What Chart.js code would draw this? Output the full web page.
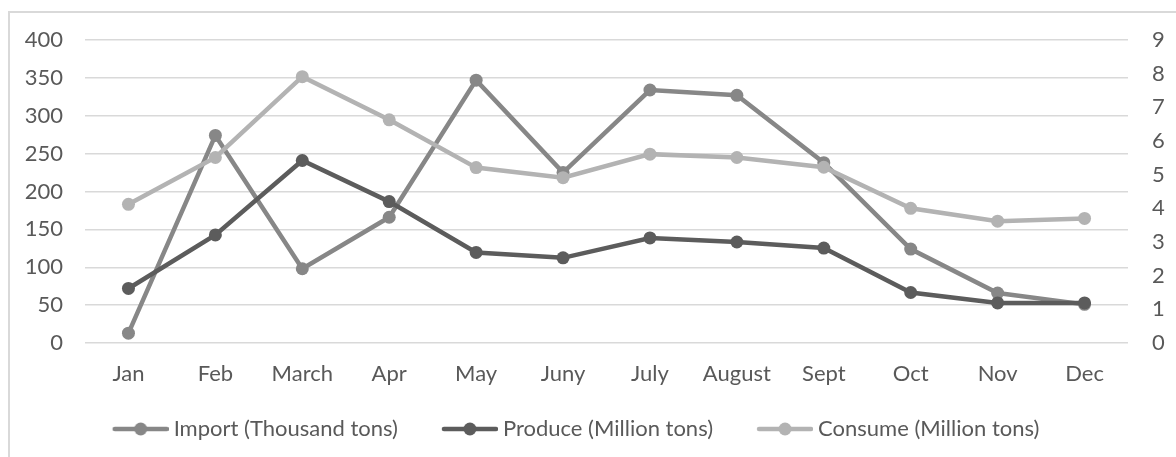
<!DOCTYPE html>
<html><head><meta charset="utf-8">
<script src="https://cdn.jsdelivr.net/npm/chart.js@4/dist/chart.umd.min.js"></script>
<style>
html,body{margin:0;padding:0;background:#fff;overflow:hidden}
#wrap{position:relative;width:1176px;height:457px}
#frame{position:absolute;left:8px;top:11px;width:1300px;height:600px;border:2px solid #d9d9d9;box-sizing:border-box}
canvas{position:absolute;left:0;top:0}
</style></head><body>
<div id="wrap"><div id="frame"></div><canvas id="c" width="1176" height="457"></canvas></div>
<script>
const months = ['Jan','Feb','March','Apr','May','Juny','July','August','Sept','Oct','Nov','Dec'];
const importThousandTons = [13, 274, 98, 166, 347, 225, 334, 327, 238, 124, 66, 51];
const produceMillionTons = [1.62, 3.21, 5.42, 4.20, 2.69, 2.53, 3.12, 3.00, 2.82, 1.50, 1.19, 1.19];
const consumeMillionTons = [4.12, 5.51, 7.91, 6.63, 5.21, 4.91, 5.61, 5.51, 5.22, 4.00, 3.62, 3.70];
const seriesNames = ['Import (Thousand tons)', 'Produce (Million tons)', 'Consume (Million tons)'];
const seriesColors = ['#878787', '#5c5c5c', '#b3b3b3'];

// legend marker: transparent lead-in on the left, then line + dot
function legendMarker(color){
  const c = document.createElement('canvas');
  c.width = 98; c.height = 16;
  const g = c.getContext('2d');
  g.strokeStyle = color; g.lineWidth = 4.5; g.lineCap = 'round';
  g.beginPath(); g.moveTo(44, 8); g.lineTo(96, 8); g.stroke();
  g.fillStyle = color;
  g.beginPath(); g.arc(70, 8, 6.5, 0, Math.PI*2); g.fill();
  return c;
}

Chart.defaults.font.family = 'Lato, "Open Sans", sans-serif';
Chart.defaults.font.size = 22;
Chart.defaults.color = '#595959';

function ds(i, data, axis, order){
  return {
    label: seriesNames[i], data: data, yAxisID: axis, order: order,
    borderColor: seriesColors[i], backgroundColor: seriesColors[i],
    pointBackgroundColor: seriesColors[i], pointBorderWidth: 0,
    pointRadius: 6.5, borderWidth: 4.5, tension: 0,
    pointStyle: 'circle', _marker: legendMarker(seriesColors[i])
  };
}

const legendShift = {
  id: 'legendShift',
  afterLayout(chart){
    if (chart.legend){ chart.legend.left -= 30; chart.legend.right -= 30; }
  }
};

new Chart(document.getElementById('c'), {
  type: 'line',
  plugins: [legendShift],
  data: {
    labels: months,
    datasets: [
      ds(0, importThousandTons, 'y', 3),
      ds(1, produceMillionTons, 'y1', 2),
      ds(2, consumeMillionTons, 'y1', 1)
    ]
  },
  options: {
    responsive: false, animation: false, devicePixelRatio: 1,
    layout: { padding: { top: 40, left: 0, right: 0, bottom: 7 } },
    plugins: {
      tooltip: { enabled: false },
      legend: {
        position: 'bottom',
        labels: {
          usePointStyle: true, pointStyleWidth: 86, padding: 8,
          color: '#595959',
          sort: (a, b) => a.datasetIndex - b.datasetIndex,
          generateLabels: (chart) => chart.data.datasets.map((d, i) => ({
            text: d.label, pointStyle: d._marker, datasetIndex: i,
            fillStyle: d.borderColor, strokeStyle: d.borderColor, lineWidth: 0,
            fontColor: '#595959', hidden: false
          }))
        }
      }
    },
    scales: {
      x: {
        offset: true,
        grid: { display: false },
        border: { display: false },
        ticks: { padding: 10, maxRotation: 0, autoSkip: false },
        afterFit: s => { s.height = 67; }
      },
      y: {
        position: 'left', min: 0, max: 400,
        ticks: { stepSize: 50, padding: 22 },
        grid: { color: '#d9d9d9', lineWidth: 1.5, drawTicks: false },
        border: { display: false },
        afterFit: s => { s.width = 85; }
      },
      y1: {
        position: 'right', min: 0, max: 9,
        ticks: { stepSize: 1, padding: 24 },
        grid: { display: false, drawTicks: false },
        border: { display: false },
        afterFit: s => { s.width = 48; }
      }
    }
  }
});
</script>
</body></html>
